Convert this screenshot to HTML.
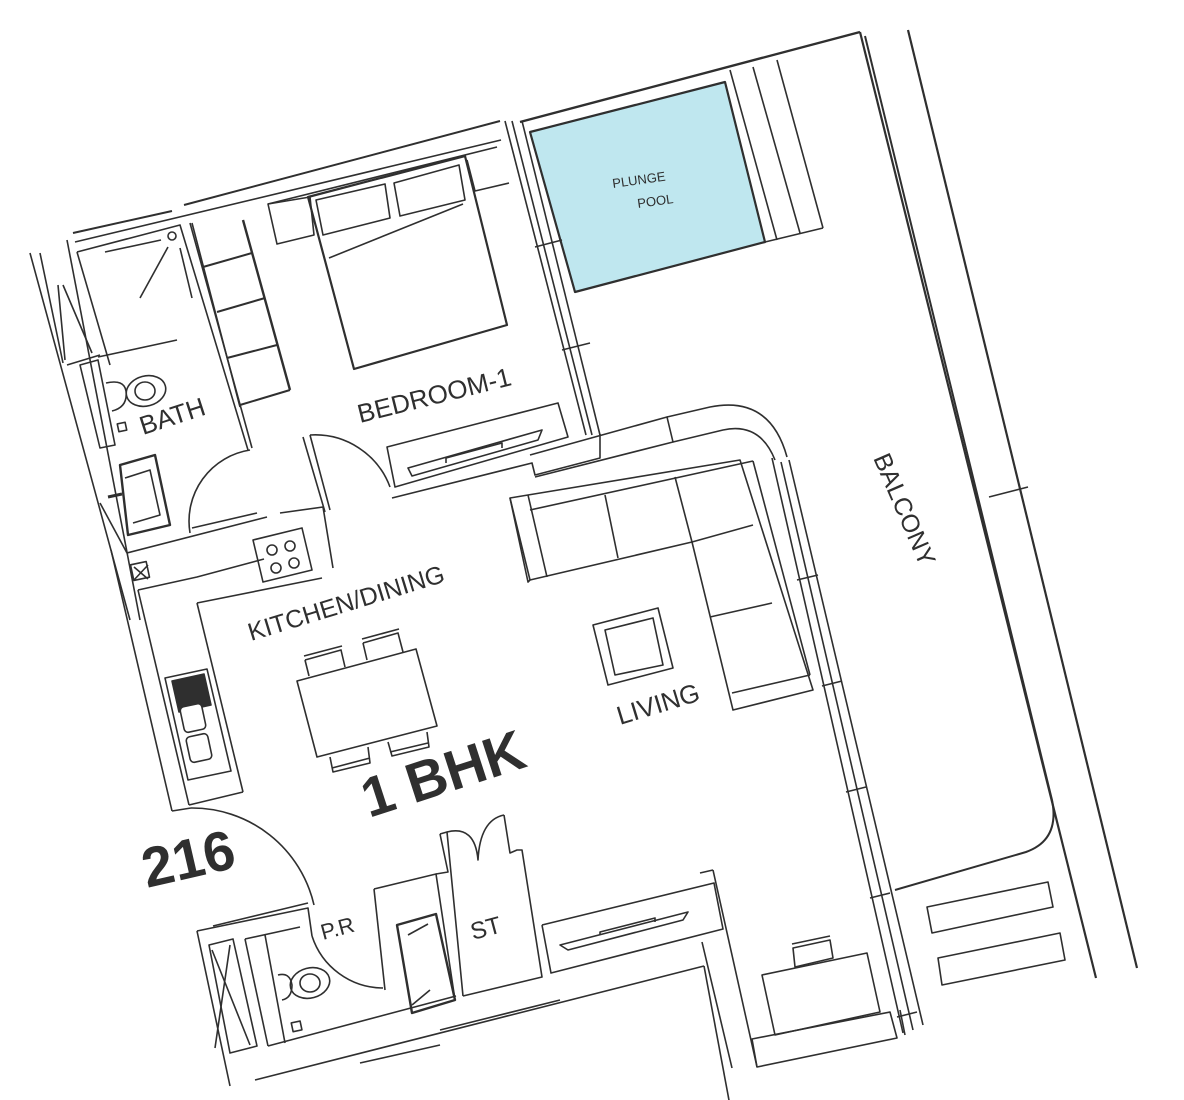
<!DOCTYPE html>
<html><head><meta charset="utf-8"><style>
html,body{margin:0;padding:0;background:#fff;}
svg{display:block}
text{font-family:"Liberation Sans",sans-serif;fill:#2f2f2f}
</style></head><body>
<svg width="1184" height="1100" viewBox="0 0 1184 1100" xmlns="http://www.w3.org/2000/svg">
<g fill="none" stroke="#2f2f2f" stroke-width="1.6" stroke-linejoin="round">
<!-- pool -->
<polygon points="530,132 725,82 765,242 575,292" fill="#bfe7ef" stroke-width="2.2"/>
<line x1="520" y1="122" x2="860" y2="32" stroke-width="2.4"/>
<line x1="730" y1="70" x2="777" y2="240"/>
<line x1="753" y1="67" x2="800" y2="233"/>
<line x1="777" y1="60" x2="823" y2="228"/>
<line x1="765" y1="242" x2="823" y2="228"/>
<!-- top walls -->
<line x1="73" y1="233" x2="172" y2="211" stroke-width="2"/>
<line x1="184" y1="205" x2="500" y2="121" stroke-width="2"/>
<line x1="75" y1="242" x2="501" y2="140"/>
<line x1="268" y1="204" x2="497" y2="147"/>
<!-- bedroom right wall (triple) -->
<line x1="505" y1="121" x2="586" y2="435"/>
<line x1="512" y1="121" x2="592" y2="435"/>
<line x1="522" y1="121" x2="600" y2="435"/>
<line x1="535" y1="247" x2="562" y2="240"/>
<line x1="562" y1="350" x2="590" y2="343"/>
<!-- balcony -->
<line x1="860" y1="32" x2="1096" y2="978" stroke-width="2.2"/>
<path d="M865,36 L1052,800 Q1060,840 1026,852 L895,890" stroke-width="2"/>
<line x1="908" y1="30" x2="1137" y2="968" stroke-width="2.2"/>
<line x1="989" y1="497" x2="1028" y2="487"/>
<polygon points="927,907 1048,882 1053,907 932,933"/>
<polygon points="938,958 1060,933 1065,960 942,985"/>
<!-- bed -->
<polygon points="308,197 465,156 507,325 354,369" stroke-width="2.2"/>
<polygon points="316,200 385,184 390,218 323,235"/>
<polygon points="394,183 459,165 465,200 400,216"/>
<line x1="329" y1="258" x2="463" y2="204"/>
<polygon points="268,204 310,197 314,235 277,244"/>
<polyline points="467,160 475,191 509,183"/>
<!-- closet -->
<line x1="192" y1="223" x2="240" y2="407"/>
<line x1="243" y1="220" x2="290" y2="390" stroke-width="2.4"/>
<line x1="203" y1="267" x2="252" y2="253" stroke-width="2"/>
<line x1="217" y1="312" x2="265" y2="298" stroke-width="2"/>
<line x1="227" y1="358" x2="277" y2="345" stroke-width="2"/>
<line x1="240" y1="405" x2="290" y2="390" stroke-width="2"/>
<!-- bath -->
<line x1="30" y1="253" x2="130" y2="620"/>
<line x1="40" y1="253" x2="63" y2="363"/>
<line x1="67" y1="240" x2="140" y2="620"/>
<line x1="58" y1="285" x2="65" y2="360"/>
<line x1="63" y1="285" x2="92" y2="353"/>
<line x1="67" y1="365" x2="100" y2="355"/>
<polyline points="77,252 180,225 248,450"/>
<line x1="77" y1="252" x2="110" y2="365"/>
<line x1="190" y1="223" x2="252" y2="448"/>
<line x1="105" y1="252" x2="161" y2="240"/>
<line x1="140" y1="298" x2="168" y2="247"/>
<circle cx="172" cy="236" r="4"/>
<line x1="180" y1="248" x2="192" y2="298"/>
<line x1="98" y1="357" x2="177" y2="340"/>
<polygon points="80,365 98,360 115,445 100,448"/>
<ellipse cx="146" cy="391" rx="20" ry="15" transform="rotate(-15 146 391)"/>
<ellipse cx="145" cy="391" rx="10" ry="9"/>
<path d="M106,383 Q124,379 126,391 Q128,407 112,411"/>
<rect x="118" y="423" width="8" height="8" transform="rotate(-12 122 427)"/>
<polygon points="120,465 155,455 170,525 128,535" stroke-width="2.4"/>
<polyline points="125,478 150,470 160,515 133,523"/>
<line x1="108" y1="497" x2="122" y2="494" stroke-width="3"/>
<path d="M250,450 A72,72 0 0 0 190,533"/>
<line x1="192" y1="528" x2="257" y2="513"/>
<line x1="127" y1="553" x2="267" y2="517"/>
<line x1="100" y1="503" x2="127" y2="553"/>
<!-- bedroom door & walls -->
<line x1="303" y1="437" x2="325" y2="512"/>
<line x1="310" y1="435" x2="330" y2="510"/>
<path d="M310,435 A80,80 0 0 1 390,487"/>
<polygon points="387,447 558,403 568,437 395,487"/>
<path d="M408,468 L542,430 L538,440 L412,476 Z"/>
<polyline points="446,463 446,458 502,443 502,448"/>
<polyline points="392,498 532,463 535,475 600,458 600,434"/>
<polyline points="530,455 667,417 673,442 535,477"/>
<line x1="280" y1="513" x2="323" y2="507"/>
<line x1="323" y1="507" x2="333" y2="568"/>
<!-- living curve top -->
<path d="M667,417 L710,407 Q770,395 787,457"/>
<path d="M673,442 L723,430 Q760,422 775,460"/>
<line x1="772" y1="458" x2="903" y2="1033"/>
<line x1="781" y1="462" x2="913" y2="1030"/>
<line x1="789" y1="460" x2="923" y2="1025"/>
<line x1="797" y1="580" x2="818" y2="575"/>
<line x1="822" y1="686" x2="842" y2="681"/>
<line x1="846" y1="792" x2="866" y2="787"/>
<line x1="870" y1="898" x2="890" y2="893"/>
<line x1="897" y1="1017" x2="917" y2="1012"/>
<!-- sofa -->
<polygon points="510,498 528,495 740,460 813,690 733,710 692,542 530,580 528,582"/>
<line x1="510" y1="498" x2="530" y2="580"/>
<line x1="528" y1="495" x2="547" y2="577"/>
<line x1="530" y1="510" x2="753" y2="461"/>
<line x1="605" y1="495" x2="618" y2="558"/>
<line x1="675" y1="477" x2="692" y2="542"/>
<line x1="692" y1="542" x2="753" y2="525"/>
<line x1="710" y1="617" x2="772" y2="603"/>
<line x1="732" y1="693" x2="810" y2="675"/>
<line x1="753" y1="461" x2="810" y2="675"/>
<polygon points="593,625 658,608 673,668 608,685"/>
<polygon points="605,630 653,618 663,665 615,675"/>
<!-- kitchen -->
<line x1="111" y1="550" x2="172" y2="811"/>
<polyline points="138,590 197,577 264,559"/>
<line x1="138" y1="590" x2="189" y2="805"/>
<polyline points="197,603 322,578"/>
<line x1="197" y1="603" x2="243" y2="792"/>
<line x1="189" y1="805" x2="243" y2="792"/>
<rect x="132" y="563" width="16" height="16" transform="rotate(-12 140 571)"/>
<path d="M134,567 L148,579 M148,565 L134,580"/>
<polygon points="253,540 302,528 312,570 263,582"/>
<circle cx="272" cy="550" r="5"/><circle cx="290" cy="546" r="5"/>
<circle cx="276" cy="568" r="5"/><circle cx="294" cy="563" r="5"/>
<polygon points="165,678 207,669 231,771 188,780"/>
<polygon points="172,681 204,674 211,705 179,712" fill="#2f2f2f"/>
<rect x="182" y="705" width="22" height="26" rx="4" transform="rotate(-12 193 718)" fill="#fff"/>
<rect x="188" y="735" width="22" height="26" rx="4" transform="rotate(-12 199 748)" fill="#fff"/>
<!-- dining -->
<polygon points="297,681 416,649 437,726 317,757"/>
<polyline points="305,660 341,650 345,667"/><line x1="305" y1="660" x2="309" y2="676"/>
<line x1="304" y1="656" x2="342" y2="646"/>
<polyline points="363,643 398,633 403,652"/><line x1="363" y1="643" x2="367" y2="660"/>
<line x1="362" y1="639" x2="399" y2="629"/>
<polyline points="330,757 333,772 370,763 368,747"/><line x1="332" y1="768" x2="370" y2="758"/>
<polyline points="388,742 392,756 429,747 427,732"/><line x1="390" y1="752" x2="428" y2="743"/>
<!-- entry door -->
<path d="M191,808 A125,125 0 0 1 314,905"/>
<line x1="172" y1="811" x2="191" y2="808"/>
<!-- PR / ST -->
<polyline points="197,931 308,908 312,936"/>
<line x1="213" y1="926" x2="308" y2="903"/>
<line x1="197" y1="931" x2="230" y2="1086"/>
<polygon points="209,945 233,939 257,1046 230,1053"/>
<line x1="212" y1="950" x2="250" y2="1045"/>
<line x1="230" y1="945" x2="215" y2="1048"/>
<polyline points="245,939 300,927"/>
<line x1="245" y1="939" x2="268" y2="1046"/>
<line x1="265" y1="935" x2="285" y2="1043"/>
<ellipse cx="310" cy="983" rx="20" ry="15" transform="rotate(-15 310 983)"/>
<ellipse cx="310" cy="983" rx="10" ry="9"/>
<path d="M278,975 Q290,972 292,985 Q292,998 282,1000"/>
<rect x="292" y="1022" width="9" height="9" transform="rotate(-12 296 1026)"/>
<path d="M312,936 A75,75 0 0 0 383,988"/>
<line x1="268" y1="1046" x2="456" y2="996"/>
<line x1="255" y1="1080" x2="704" y2="966"/>
<polyline points="704,966 731,1111"/>
<polyline points="374,889 436,874 455,1000"/>
<line x1="374" y1="889" x2="385" y2="990"/>
<polygon points="397,925 436,914 455,1000 412,1013" stroke-width="2.4"/>
<line x1="408" y1="935" x2="428" y2="924"/>
<line x1="412" y1="1005" x2="430" y2="990"/>
<polyline points="440,834 448,872 436,874"/>
<polyline points="440,834 447,832 463,996"/>
<path d="M447,832 Q475,825 478,860 Q480,820 504,815"/>
<polyline points="504,815 510,853 517,850 522,850 542,977 463,996"/>
<polyline points="542,925 714,883 723,929 551,973 542,925"/>
<path d="M560,945 L688,912 L683,920 L568,950 Z"/>
<polyline points="600,935 600,932 655,918 655,922"/>
<polyline points="713,870 757,1067"/>
<line x1="700" y1="873" x2="713" y2="870"/>
<line x1="702" y1="942" x2="732" y2="1068"/>
<polygon points="762,975 867,953 880,1012 775,1035"/>
<polygon points="793,948 830,940 833,958 795,967"/>
<line x1="792" y1="944" x2="830" y2="936"/>
<polygon points="752,1039 890,1012 897,1038 757,1067"/>
<line x1="900" y1="1010" x2="905" y2="1035"/>
<line x1="360" y1="1063" x2="440" y2="1045"/>
<line x1="440" y1="1030" x2="560" y2="1000"/>
</g>
<!-- labels -->
<text x="613" y="188" font-size="13" transform="rotate(-8 613 188)">PLUNGE</text>
<text x="638" y="208" font-size="13" transform="rotate(-8 638 208)">POOL</text>
<text x="143" y="435" font-size="26" transform="rotate(-18 143 435)">BATH</text>
<text x="360" y="423" font-size="26" transform="rotate(-14 360 423)">BEDROOM-1</text>
<text x="251" y="641" font-size="25" transform="rotate(-17 251 641)">KITCHEN/DINING</text>
<text x="620" y="725" font-size="26" transform="rotate(-17 620 725)">LIVING</text>
<text x="873" y="458" font-size="25" transform="rotate(66.6 873 458)">BALCONY</text>
<text x="369" y="818" font-size="56" font-weight="bold" transform="rotate(-18 369 818)">1 BHK</text>
<text x="147" y="888" font-size="56" font-weight="bold" transform="rotate(-13 147 888)">216</text>
<text x="323" y="940" font-size="22" transform="rotate(-15 323 940)">P.R</text>
<text x="473" y="940" font-size="24" transform="rotate(-15 473 940)">ST</text>
</svg>
</body></html>
